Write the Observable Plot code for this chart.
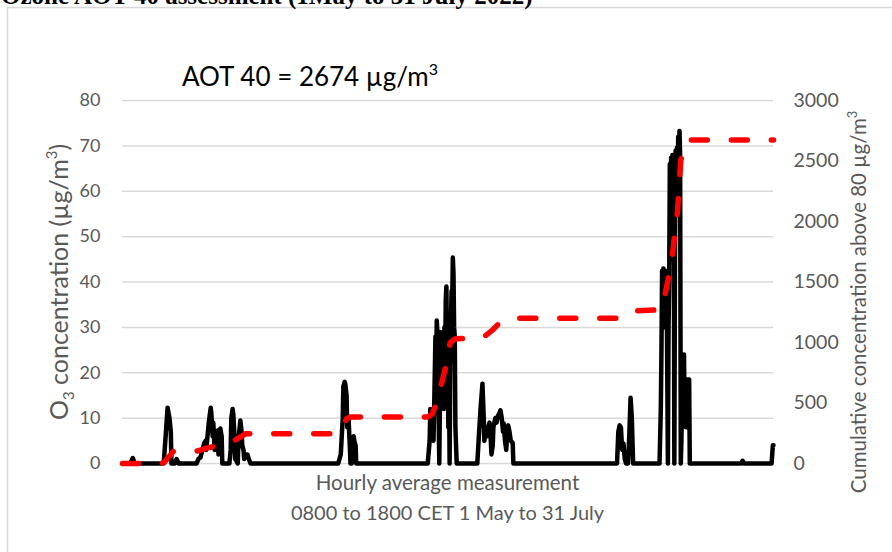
<!DOCTYPE html>
<html><head><meta charset="utf-8">
<script src="https://cdn.jsdelivr.net/npm/d3@7"></script>
<script src="https://cdn.jsdelivr.net/npm/@observablehq/plot@0.6"></script>
<style>
body{margin:0;background:#fff;}
#chart{position:relative;width:892px;height:552px;overflow:hidden;background:#fff;}
</style>
</head><body><div id="chart"></div>
<script>
// Hour index (0800-1800 CET, 1 May to 31 July) and hourly O3 concentration
const o3Hours = [0,12,16,19,
 64,67,70,71,73,75,76,81,84,87,
 115,118,121,124,127,129,130,134,137,138,140,141,143,144,148,149,151,152,154,155,
 166,168,169,171,172,174,175,179,180,183,185,186,188,189,191,194,196,199,
 335,339,342,343,345,346,348,349,351,353,354,356,357,359,360,362,363,
 474,477,478,480,481,483,485,486,487,488,489,490,491,492,493,494,495,496,497,498,499,500,501,502,503,504,505,506,507,508,509,510,511,512,513,514,515,516,517,519,
 551,553,556,559,561,562,564,566,568,570,572,573,575,576,579,581,583,585,587,589,591,592,594,596,597,599,601,603,606,607,
 768,770,772,774,776,778,780,782,785,787,789,791,793,
 834,836,837,838,839,840,841,842,843,844,845,846,847,848,849,850,851,852,853,854,855,856,857,858,859,860,861,862,863,864,865,866,867,868,869,870,871,872,873,874,875,876,877,878,879,880,881,
 961,963,965,
 1008,1010,1011];
const o3Values = [0,0,1.2,0,
 0,6,12.3,11.5,10,7,0,0,1,0,
 0,1,1.3,3,4.5,5,3,9,12.3,11,6,9,3,7,7.3,2,6,7.7,6,0,
 0,3,10,12,11,6,1,0,5,9.5,7,4,2.9,1,2,2,1,0,
 0,2,10,17,18,17.5,15,8,10,4,0,0,5,6,5,4,0,
 0,5,12,11,6,5,20,28,18,31.5,29,20,10,0,15,29,20,27,18,25,12,30,20,36,39,25,30,8,20,0,20,30,38,35,45.4,42,30,28,8,0,
 0,5,12,17.6,10,5,7.3,6,8,9,5,2,4,8,10,9,10.5,11,11.7,10,7,8.8,5,3,6,8.4,7,5,4.5,0,
 0,7,8.4,8,3,4.4,1,0,0,6,14.5,10,0,
 0,12,25,42.5,30,43,35,42,42.5,30,42,20,0,30,40,66,50,67.4,45,68,55,67,0,45,69,55,69.6,60,72,65,73.3,68,0,5,15,24,20,24,10,12,8,18.5,12,18.5,18.5,18.5,0,
 0,0.6,0,
 0,4,4];
// Cumulative concentration (right axis)
const cumHours = [0,59,65,71,79,113,121,129,141,168,177,191,199,335,342,348,354,475,481,488,494,502,509,517,559,567,575,587,603,769,776,789,836,840,846,853,862,867,873,877,1011];
const cumValues = [0,0,10,50,100,100,110,125,140,175,200,245,245,245,300,370,385,385,410,500,630,800,1000,1030,1040,1070,1105,1170,1200,1200,1230,1260,1270,1330,1487,1677,2090,2503,2640,2674,2674];

const leftTicks = [0,10,20,30,40,50,60,70,80];
const rightTickLabels = ["0","500","1000","1500","2000","2500","3000"];
const rightTicks = [0,500,1000,1500,2000,2500,3000];
const leftMax = 80, rightMax = 3000, lastHour = 1011;

const topText = "Ozone AOT 40 assessment (1May to 31 July 2022)";
const titleText = "AOT 40 = 2674 µg/m";
const xTitle1 = "Hourly average measurement";
const xTitle2 = "0800 to 1800 CET 1 May to 31 July";
const rightTitle = "Cumulative concentration above 80 µg/m";

const o3 = o3Hours.map((h, i) => ({h, v: o3Values[i]}));
const cum = cumHours.map((h, i) => ({h, v: cumValues[i]}));
const toLeft = v => v * leftMax / rightMax;

const plot = Plot.plot({
  width: 892, height: 552,
  marginLeft: 122, marginRight: 119, marginTop: 100, marginBottom: 89,
  style: {fontFamily: "Lato, sans-serif", fontSize: "18px", color: "#595959", background: "transparent"},
  x: {domain: [0, lastHour], axis: null},
  y: {domain: [0, leftMax], axis: null},
  marks: [
    Plot.gridY(leftTicks, {stroke: "#d9d9d9", strokeOpacity: 1, strokeWidth: 1.5}),
    Plot.axisY(leftTicks, {anchor: "left", tickSize: 0, tickPadding: 22, label: null, fontSize: 18}),
    Plot.axisY(rightTicks.map(toLeft), {anchor: "right", tickSize: 0, tickPadding: 20, label: null, fontSize: 19.5,
      tickFormat: d => rightTickLabels[rightTicks.map(toLeft).indexOf(d)]}),
    Plot.line(o3, {x: "h", y: "v", stroke: "#000", strokeWidth: 4.5, strokeLinejoin: "round"}),
    Plot.line(cum, {x: "h", y: d => toLeft(d.v), stroke: "#ff0000", strokeWidth: 5.5,
      strokeDasharray: "16,24", strokeLinecap: "round", strokeLinejoin: "round"})
  ]
});
document.getElementById("chart").appendChild(plot);

const svg = d3.select(plot);
// chart border
svg.insert("rect", ":first-child").attr("x", 7.5).attr("y", 7.5).attr("width", 1000).attr("height", 1000)
  .attr("fill", "#fff").attr("stroke", "#d9d9d9").attr("stroke-width", 1.5);
// cut-off heading above the chart
svg.append("text").attr("x", 1).attr("y", 4).attr("text-anchor", "start").attr("font-family", "'Liberation Serif', serif")
  .attr("font-weight", "bold").attr("font-size", 25).attr("fill", "#000").text(topText);
// title
const t = svg.append("text").attr("x", 182).attr("y", 86).attr("text-anchor", "start").attr("font-family", "Lato, sans-serif")
  .attr("font-size", 26).attr("fill", "#000");
t.append("tspan").text(titleText);
t.append("tspan").attr("dy", -11).attr("font-size", 16).text("3");
// left axis title
const lt = svg.append("text").attr("transform", "translate(68,282) rotate(-90)").attr("text-anchor", "middle")
  .attr("font-family", "Lato, sans-serif").attr("font-size", 25).attr("fill", "#595959");
lt.append("tspan").text("O");
lt.append("tspan").attr("dy", 6).attr("font-size", 15).text("3");
lt.append("tspan").attr("dy", -6).text(" concentration (µg/m");
lt.append("tspan").attr("dy", -11).attr("font-size", 15).text("3");
lt.append("tspan").attr("dy", 11).text(")");
// right axis title
const rt = svg.append("text").attr("transform", "translate(866,302) rotate(-90)").attr("text-anchor", "middle")
  .attr("font-family", "Lato, sans-serif").attr("font-size", 20.5).attr("fill", "#595959");
rt.append("tspan").text(rightTitle);
rt.append("tspan").attr("dy", -9).attr("font-size", 13).text("3");
// x axis titles
svg.append("text").attr("x", 447.5).attr("y", 490).attr("text-anchor", "middle")
  .attr("font-family", "Lato, sans-serif").attr("font-size", 20.5).attr("fill", "#595959").text(xTitle1);
svg.append("text").attr("x", 447.5).attr("y", 520).attr("text-anchor", "middle")
  .attr("font-family", "Lato, sans-serif").attr("font-size", 20).attr("fill", "#595959").text(xTitle2);
</script>
</body></html>
